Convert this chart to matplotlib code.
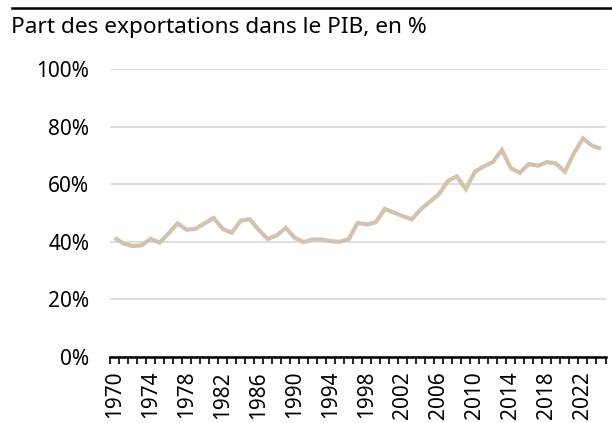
import matplotlib
matplotlib.use("Agg")
import matplotlib.pyplot as plt
from matplotlib.ticker import FixedLocator, FuncFormatter
from matplotlib.lines import Line2D

years = list(range(1970, 2025))
export_share = [41.4, 39.4, 38.5, 38.8, 41.0, 39.7, 42.9, 46.4, 44.2, 44.5,
                46.4, 48.3, 44.5, 43.1, 47.3, 47.9, 44.2, 41.0, 42.2, 44.8,
                41.4, 39.9, 40.8, 40.8, 40.2, 40.0, 40.9, 46.6, 46.0, 46.8,
                51.4, 50.2, 48.9, 47.8, 51.3, 53.9, 56.5, 61.1, 62.7, 58.3,
                64.3, 66.2, 67.7, 71.9, 65.5, 64.0, 67.0, 66.4, 67.7, 67.2,
                64.3, 70.8, 75.9, 73.4, 72.3]
y_ticks = [0, 20, 40, 60, 80, 100]
x_label_years = list(range(1970, 2023, 4))
title = "Part des exportations dans le PIB, en %"

plt.rcParams['font.family'] = ['Noto Sans', 'DejaVu Sans']

fig = plt.figure(figsize=(6.12, 4.23), dpi=100)
ax = fig.add_axes([110/612, 66/423, (605.5-110)/612, (357-69)/423])

ax.plot(years, export_share, color='#D3C3AE', linewidth=3.0, solid_joinstyle='miter',
        solid_capstyle='butt', zorder=3)

ax.set_xlim(years[0]-0.5, years[-1]+0.5)
ax.set_ylim(0, 100)

ax.yaxis.set_major_locator(FixedLocator(y_ticks))
ax.yaxis.set_major_formatter(FuncFormatter(lambda v, p: f"{int(v)}%"))
ax.tick_params(axis='y', length=0, pad=15, labelsize=15, colors='black')
ax.grid(axis='y', color='#D9D9D9', linewidth=1.2, zorder=0)

ax.xaxis.set_major_locator(FixedLocator(x_label_years))
ax.xaxis.set_minor_locator(FixedLocator([y - 0.5 for y in years] + [years[-1] + 0.5]))
ax.tick_params(axis='x', which='major', length=0, pad=10, labelsize=15, labelrotation=90)
ax.tick_params(axis='x', which='minor', length=5, width=1.2, color='black', direction='out')

for s in ['top', 'right', 'left']:
    ax.spines[s].set_visible(False)
ax.spines['bottom'].set_color('black')
ax.spines['bottom'].set_linewidth(1.8)
ax.set_axisbelow(True)

fig.text(11/612, 1 - 28/423, title, fontsize=16.3, va='center', ha='left')
fig.add_artist(Line2D([12/612, 1.0], [1 - 8/423, 1 - 8/423], color='black', linewidth=1.8,
                      transform=fig.transFigure))

fig.savefig("out.png", dpi=100)
